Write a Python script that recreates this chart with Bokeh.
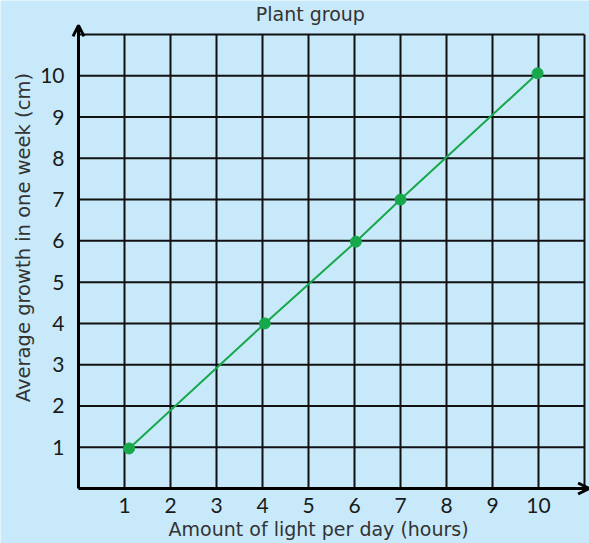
from bokeh.plotting import figure
from bokeh.models import Range1d, FixedTicker, Arrow, OpenHead, Label
from bokeh.embed import file_html
from bokeh.resources import INLINE

# Data
light_hours = [1.1, 4.05, 6.03, 7.0, 9.98]
growth_cm = [0.97, 4.0, 5.98, 7.0, 10.06]
tick_values = [1, 2, 3, 4, 5, 6, 7, 8, 9, 10]
grid_values = [1, 2, 3, 4, 5, 6, 7, 8, 9, 10, 11]
grid_extent = 11
title_text = "Plant group"
x_title = "Amount of light per day (hours)"
y_title = "Average growth in one week (cm)"

BG = "#c7e9f9"
GREEN = "#17a84b"
FONT = "DejaVu Sans"
TICK_FONT = "Lato"
TXT = "#333333"

# frame covers whole canvas; grid spans 0..11 in both directions
p = figure(width=589, height=543, output_backend="svg", toolbar_location=None,
           x_range=Range1d(-1.6957, 11.1087), y_range=Range1d(-1.3326, 11.8238),
           min_border=0)
p.title.text = ""
p.background_fill_color = BG
p.border_fill_color = BG
p.outline_line_color = None
p.xgrid.visible = False
p.ygrid.visible = False

for ax in (p.xaxis[0], p.yaxis[0]):
    ax.fixed_location = 0
    ax.ticker = FixedTicker(ticks=tick_values)
    ax.axis_line_color = None
    ax.major_tick_line_color = None
    ax.minor_tick_line_color = None
    ax.major_label_text_font = TICK_FONT
    ax.major_label_text_font_size = "21px"
    ax.major_label_text_color = "#1a1a1a"
p.xaxis.major_label_standoff = 3
p.yaxis.major_label_standoff = 8
p.yaxis.major_label_text_align = "center"

# grid lines limited to the 0..11 square
n = len(grid_values)
p.segment(x0=grid_values, x1=grid_values, y0=[0] * n, y1=[grid_extent] * n,
          line_color="#111111", line_width=2)
p.segment(x0=[0] * n, x1=[grid_extent] * n, y0=grid_values, y1=grid_values,
          line_color="#111111", line_width=2)

# Axis arrows
p.add_layout(Arrow(x_start=0, y_start=0, x_end=0, y_end=11.22, line_width=3, line_color="#000000",
                   end=OpenHead(size=11, line_width=3, line_color="#000000")))
p.add_layout(Arrow(x_start=0, y_start=0, x_end=11.1, y_end=0, line_width=3, line_color="#000000",
                   end=OpenHead(size=11, line_width=3, line_color="#000000")))

p.line(light_hours, growth_cm, line_color=GREEN, line_width=2)
p.scatter(light_hours, growth_cm, size=11, fill_color=GREEN, line_color=GREEN)

p.add_layout(Label(x=5.04, y=11.485, text=title_text, text_align="center", text_baseline="middle",
                   text_font=FONT, text_font_size="19px", text_color=TXT))
p.add_layout(Label(x=5.22, y=-0.99, text=x_title, text_align="center", text_baseline="middle",
                   text_font=FONT, text_font_size="19px", text_color=TXT))
p.add_layout(Label(x=-1.2, y=6.08, text=y_title, text_align="center", text_baseline="middle",
                   angle=1.5707963, text_font=FONT, text_font_size="19.5px", text_color=TXT))

open("out.html", "w").write(file_html(p, INLINE))
